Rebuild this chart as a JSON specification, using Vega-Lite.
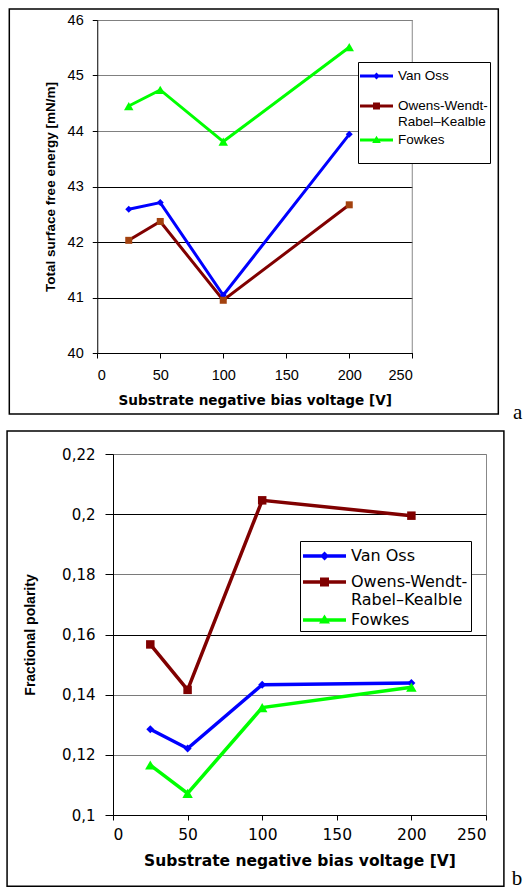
{
  "$schema": "https://vega.github.io/schema/vega-lite/v6.json",
  "padding": {"left": 5, "top": 8, "right": 0, "bottom": 0},
  "spacing": 5,
  "columns": 1,
  "datasets": {
    "energy": [
      {"series": "Van Oss", "voltage": 25, "value": 42.59},
      {"series": "Van Oss", "voltage": 50, "value": 42.71},
      {"series": "Van Oss", "voltage": 100, "value": 41.04},
      {"series": "Van Oss", "voltage": 200, "value": 43.94},
      {"series": "Owens-Wendt-Rabel–Kealble", "voltage": 25, "value": 42.03},
      {"series": "Owens-Wendt-Rabel–Kealble", "voltage": 50, "value": 42.37},
      {"series": "Owens-Wendt-Rabel–Kealble", "voltage": 100, "value": 40.95},
      {"series": "Owens-Wendt-Rabel–Kealble", "voltage": 200, "value": 42.67},
      {"series": "Fowkes", "voltage": 25, "value": 44.45},
      {"series": "Fowkes", "voltage": 50, "value": 44.74},
      {"series": "Fowkes", "voltage": 100, "value": 43.81},
      {"series": "Fowkes", "voltage": 200, "value": 45.51}
    ],
    "polarity": [
      {"series": "Van Oss", "voltage": 25, "value": 0.1285},
      {"series": "Van Oss", "voltage": 50, "value": 0.1221},
      {"series": "Van Oss", "voltage": 100, "value": 0.1433},
      {"series": "Van Oss", "voltage": 200, "value": 0.1439},
      {"series": "Owens-Wendt-Rabel–Kealble", "voltage": 25, "value": 0.1567},
      {"series": "Owens-Wendt-Rabel–Kealble", "voltage": 50, "value": 0.1416},
      {"series": "Owens-Wendt-Rabel–Kealble", "voltage": 100, "value": 0.2046},
      {"series": "Owens-Wendt-Rabel–Kealble", "voltage": 200, "value": 0.1995},
      {"series": "Fowkes", "voltage": 25, "value": 0.1166},
      {"series": "Fowkes", "voltage": 50, "value": 0.1072},
      {"series": "Fowkes", "voltage": 100, "value": 0.1357},
      {"series": "Fowkes", "voltage": 200, "value": 0.1425}
    ]
  },
  "resolve": {
    "scale": {"color": "independent", "shape": "independent", "x": "independent", "y": "independent"},
    "legend": {"color": "independent", "shape": "independent"}
  },
  "concat": [
    {
      "width": 315,
      "height": 333,
      "view": {"stroke": null},
      "layer": [
        {
          "data": {"values": [{"k": 1}]},
          "mark": {"type": "rect", "filled": false, "color": "black", "strokeWidth": 1.5, "clip": false},
          "encoding": {
            "x": {"datum": -69.8, "type": "quantitative"},
            "x2": {"datum": 318.3},
            "y": {"datum": 46.198, "type": "quantitative"},
            "y2": {"datum": 38.9}
          }
        },
        {
          "data": {"values": [{"k": 1}]},
          "mark": {"type": "text", "text": "a", "font": "Liberation Serif", "fontSize": 21, "align": "center", "baseline": "alphabetic", "color": "black", "clip": false},
          "encoding": {
            "x": {"datum": 333.7, "type": "quantitative"},
            "y": {"datum": 38.81, "type": "quantitative"}
          }
        },
        {
          "data": {"values": [{"k": 1}]},
          "mark": {"type": "rule", "color": "#888888", "strokeWidth": 1},
          "encoding": {
            "x": {"datum": 250, "type": "quantitative"}
          }
        },
        {
          "data": {"name": "energy"},
          "encoding": {
            "x": {
              "field": "voltage", "type": "quantitative",
              "scale": {"domain": [0, 250], "range": [-15.75, 299.25], "nice": false, "zero": false},
              "axis": {
                "title": "Substrate negative bias voltage [V]",
                "values": [0, 50, 100, 150, 200, 250], "format": "d",
                "grid": false, "tickSize": 5, "labelPadding": 10,
                "labelFont": "Liberation Sans", "labelFontSize": 14.5,
                "titleFont": "DejaVu Sans", "titleFontSize": 13.6, "titleFontWeight": "bold",
                "titlePadding": 12
              }
            },
            "y": {
              "field": "value", "type": "quantitative",
              "scale": {"domain": [40, 46], "nice": false, "zero": false},
              "axis": {
                "title": "Total surface free energy [mN/m]",
                "values": [40, 41, 42, 43, 44, 45, 46], "format": "d",
                "offset": 15.75,
                "grid": true,
                "gridColor": {"condition": {"test": "datum.value >= 44", "value": "#808080"}, "value": "black"},
                "tickSize": 5, "labelPadding": 9,
                "labelFont": "Liberation Sans", "labelFontSize": 14.5,
                "titleFont": "Liberation Sans", "titleFontSize": 13.5, "titleFontWeight": "bold",
                "titlePadding": 10
              }
            }
          },
          "layer": [
            {
              "transform": [{"filter": "datum.series == 'Van Oss'"}],
              "mark": {"type": "line", "strokeWidth": 3, "color": "#0000ff"}
            },
            {
              "transform": [{"filter": "datum.series == 'Owens-Wendt-Rabel–Kealble'"}],
              "mark": {"type": "line", "strokeWidth": 3, "color": "#800000"}
            },
            {
              "transform": [{"filter": "datum.series == 'Fowkes'"}],
              "mark": {"type": "line", "strokeWidth": 3, "color": "#00ff00"}
            },
            {
              "transform": [{"filter": "datum.series == 'Van Oss'"}],
              "mark": {"type": "point", "shape": "diamond", "filled": true, "size": 49, "color": "#0000ff", "opacity": 1}
            },
            {
              "transform": [{"filter": "datum.series == 'Fowkes'"}],
              "mark": {"type": "point", "shape": "triangle-up", "filled": true, "size": 90, "color": "#00ff00", "opacity": 1}
            },
            {
              "transform": [{"filter": "datum.series == 'Owens-Wendt-Rabel–Kealble'"}],
              "mark": {"type": "point", "shape": "square", "filled": true, "size": 49, "color": "#a3420f", "opacity": 1}
            },
            {
              "transform": [{"filter": "false"}],
              "mark": {"type": "point", "filled": true, "opacity": 1, "size": 576},
              "encoding": {
                "color": {"field": "series", "type": "nominal",
                  "scale": {"domain": ["Van Oss", "Owens-Wendt-Rabel–Kealble", "Fowkes"], "range": ["#0000ff", "#800000", "#00ff00"]},
                  "legend": {
                    "title": null, "orient": "none", "legendX": 245, "legendY": 42, "direction": "vertical",
                    "fillColor": "white", "strokeColor": "black", "padding": 2, "symbolSize": 576, "symbolStrokeWidth": 0,
                    "labelFont": "Liberation Sans", "labelFontSize": 13.5, "labelColor": "black", "labelOffset": 14,
                    "rowPadding": 0, "labelLimit": 300,
                    "labelExpr": "datum.label == 'Owens-Wendt-Rabel–Kealble' ? ['Owens-Wendt-', 'Rabel–Kealble'] : datum.label",
                    "encode": {"labels": {"update": {"lineHeight": {"value": 15}}}}
                  }
                },
                "shape": {"field": "series", "type": "nominal",
                  "scale": {"domain": ["Van Oss", "Owens-Wendt-Rabel–Kealble", "Fowkes"],
                    "range": [
                      "M-1,-0.125H1.75V0.125H-1Z M0.375,-0.29L0.665,0L0.375,0.29L0.085,0Z M-1.25,-0.5L-1.25,1.417",
                      "M-1,-0.125H1.75V0.125H-1Z M0.085,-0.29H0.665V0.29H0.085Z M-1.25,-1.0L-1.25,0",
                      "M-1,-0.125H1.75V0.125H-1Z M0.375,-0.36L0.735,0.24H0.015Z M-1.25,-0.5L-1.25,1.667"
                    ]},
                  "legend": {
                    "title": null, "orient": "none", "legendX": 245, "legendY": 42, "direction": "vertical",
                    "fillColor": "white", "strokeColor": "black", "padding": 2, "symbolSize": 576, "symbolStrokeWidth": 0,
                    "labelFont": "Liberation Sans", "labelFontSize": 13.5, "labelColor": "black", "labelOffset": 14,
                    "rowPadding": 0, "labelLimit": 300,
                    "labelExpr": "datum.label == 'Owens-Wendt-Rabel–Kealble' ? ['Owens-Wendt-', 'Rabel–Kealble'] : datum.label",
                    "encode": {"labels": {"update": {"lineHeight": {"value": 15}}}}
                  }
                }
              }
            }
          ]
        }
      ]
    },
    {
      "width": 373,
      "height": 361,
      "layer": [
        {
          "data": {"values": [{"k": 1}]},
          "mark": {"type": "rect", "filled": false, "color": "black", "strokeWidth": 1.5, "clip": false},
          "encoding": {
            "x": {"datum": -71.0, "type": "quantitative"},
            "x2": {"datum": 262.0},
            "y": {"datum": 0.22767, "type": "quantitative"},
            "y2": {"datum": 0.07633}
          }
        },
        {
          "data": {"values": [{"k": 1}]},
          "mark": {"type": "text", "text": "b", "font": "Liberation Serif", "fontSize": 21, "align": "center", "baseline": "alphabetic", "color": "black", "clip": false},
          "encoding": {
            "x": {"datum": 270.8, "type": "quantitative"},
            "y": {"datum": 0.0768, "type": "quantitative"}
          }
        },
        {
          "data": {"name": "polarity"},
          "encoding": {
            "x": {
              "field": "voltage", "type": "quantitative",
              "scale": {"domain": [0, 250], "nice": false, "zero": false},
              "axis": {
                "title": "Substrate negative bias voltage [V]",
                "values": [0, 50, 100, 150, 200, 250], "format": "d",
                "grid": false, "tickSize": 5, "labelPadding": 7,
                "labelFont": "DejaVu Sans", "labelFontSize": 15.5,
                "titleFont": "DejaVu Sans", "titleFontSize": 15.5, "titleFontWeight": "bold",
                "titlePadding": 11
              }
            },
            "y": {
              "field": "value", "type": "quantitative",
              "scale": {"domain": [0.1, 0.22], "nice": false, "zero": false},
              "axis": {
                "title": "Fractional polarity",
                "values": [0.1, 0.12, 0.14, 0.16, 0.18, 0.2, 0.22],
                "labelExpr": "replace(format(datum.value, '.2~f'), '.', ',')",
                "grid": true,
                "gridColor": {"condition": {"test": "abs(datum.value - 0.2) < 0.001 || abs(datum.value - 0.16) < 0.001", "value": "black"}, "value": "#7a7a7a"},
                "tickSize": 8, "labelPadding": 10,
                "labelFont": "DejaVu Sans", "labelFontSize": 15,
                "titleFont": "Liberation Sans", "titleFontSize": 14, "titleFontWeight": "bold",
                "titlePadding": 24
              }
            }
          },
          "layer": [
            {
              "transform": [{"filter": "datum.series == 'Van Oss'"}],
              "mark": {"type": "line", "strokeWidth": 3.5, "color": "#0000ff"}
            },
            {
              "transform": [{"filter": "datum.series == 'Owens-Wendt-Rabel–Kealble'"}],
              "mark": {"type": "line", "strokeWidth": 3.5, "color": "#800000"}
            },
            {
              "transform": [{"filter": "datum.series == 'Fowkes'"}],
              "mark": {"type": "line", "strokeWidth": 3.5, "color": "#00ff00"}
            },
            {
              "transform": [{"filter": "datum.series == 'Van Oss'"}],
              "mark": {"type": "point", "shape": "diamond", "filled": true, "size": 64, "color": "#0000ff", "opacity": 1}
            },
            {
              "transform": [{"filter": "datum.series == 'Fowkes'"}],
              "mark": {"type": "point", "shape": "triangle-up", "filled": true, "size": 110, "color": "#00ff00", "opacity": 1}
            },
            {
              "transform": [{"filter": "datum.series == 'Owens-Wendt-Rabel–Kealble'"}],
              "mark": {"type": "point", "shape": "square", "filled": true, "size": 72, "color": "#800000", "opacity": 1}
            },
            {
              "transform": [{"filter": "false"}],
              "mark": {"type": "point", "filled": true, "opacity": 1, "size": 576},
              "encoding": {
                "color": {"field": "series", "type": "nominal",
                  "scale": {"domain": ["Van Oss", "Owens-Wendt-Rabel–Kealble", "Fowkes"], "range": ["#0000ff", "#800000", "#00ff00"]},
                  "legend": {
                    "title": null, "orient": "none", "legendX": 187, "legendY": 87, "direction": "vertical",
                    "fillColor": "white", "strokeColor": "black", "padding": 3, "symbolSize": 576, "symbolStrokeWidth": 0,
                    "labelFont": "DejaVu Sans", "labelFontSize": 16, "labelColor": "black", "labelOffset": 24,
                    "rowPadding": 0, "labelLimit": 300,
                    "labelExpr": "datum.label == 'Owens-Wendt-Rabel–Kealble' ? ['Owens-Wendt-', 'Rabel–Kealble'] : datum.label",
                    "encode": {"labels": {"update": {"lineHeight": {"value": 16}}}}
                  }
                },
                "shape": {"field": "series", "type": "nominal",
                  "scale": {"domain": ["Van Oss", "Owens-Wendt-Rabel–Kealble", "Fowkes"],
                    "range": [
                      "M-1,-0.146H2.583V0.146H-1Z M0.792,-0.375L1.167,0L0.792,0.375L0.417,0Z M-1.583,-0.5L-1.583,1.083",
                      "M-1,-0.146H2.583V0.146H-1Z M0.417,-0.375H1.167V0.375H0.417Z M-1.583,-1.083L-1.583,0",
                      "M-1,-0.146H2.583V0.146H-1Z M0.792,-0.45L1.25,0.3H0.334Z M-1.583,0L-1.583,0.3"
                    ]},
                  "legend": {
                    "title": null, "orient": "none", "legendX": 187, "legendY": 87, "direction": "vertical",
                    "fillColor": "white", "strokeColor": "black", "padding": 3, "symbolSize": 576, "symbolStrokeWidth": 0,
                    "labelFont": "DejaVu Sans", "labelFontSize": 16, "labelColor": "black", "labelOffset": 24,
                    "rowPadding": 0, "labelLimit": 300,
                    "labelExpr": "datum.label == 'Owens-Wendt-Rabel–Kealble' ? ['Owens-Wendt-', 'Rabel–Kealble'] : datum.label",
                    "encode": {"labels": {"update": {"lineHeight": {"value": 16}}}}
                  }
                }
              }
            }
          ]
        }
      ]
    }
  ],
  "config": {
    "view": {"stroke": "#888888", "strokeWidth": 1},
    "axis": {"domainColor": "black", "tickColor": "black", "labelColor": "black", "titleColor": "black", "domainWidth": 1, "tickWidth": 1, "gridWidth": 1}
  }
}
